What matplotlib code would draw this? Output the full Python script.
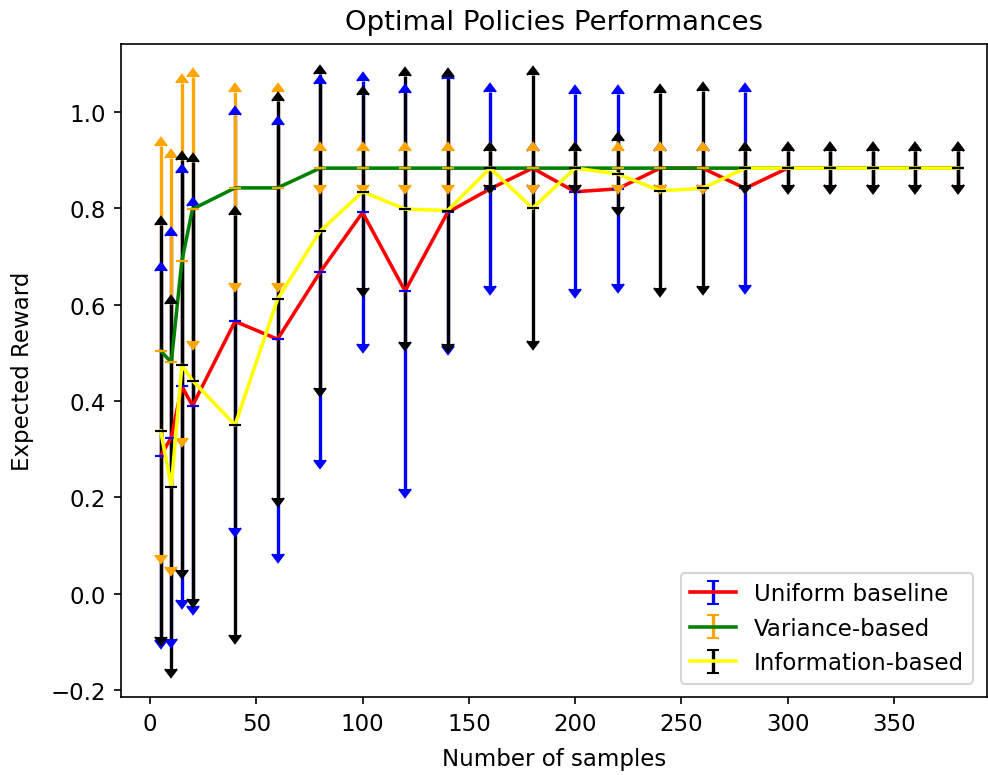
import matplotlib
matplotlib.use("Agg")
import matplotlib.pyplot as plt

# sample counts used for every policy
samples = [5, 10, 15, 20, 40, 60, 80, 100, 120, 140, 160, 180, 200,
           220, 240, 260, 280, 300, 320, 340, 360, 380]

# expected reward (mean) and spread for each policy
uniform_mean = [0.286, 0.324, 0.430, 0.390, 0.565, 0.528, 0.667, 0.791, 0.628,
                0.791, 0.840, 0.883, 0.834, 0.840, 0.883, 0.883, 0.841, 0.883,
                0.883, 0.883, 0.883, 0.883]
uniform_err = [0.383, 0.418, 0.443, 0.415, 0.428, 0.445, 0.390, 0.273, 0.410,
               0.277, 0.202, 0.036, 0.202, 0.197, 0.036, 0.036, 0.200, 0.036,
               0.036, 0.036, 0.036, 0.036]

variance_mean = [0.504, 0.480, 0.691, 0.798, 0.842, 0.842, 0.883, 0.883, 0.883,
                 0.883, 0.883, 0.883, 0.883, 0.883, 0.883, 0.883, 0.883, 0.883,
                 0.883, 0.883, 0.883, 0.883]
variance_err = [0.424, 0.424, 0.369, 0.274, 0.198, 0.198, 0.036, 0.036, 0.036,
                0.036, 0.036, 0.036, 0.036, 0.036, 0.036, 0.036, 0.036, 0.036,
                0.036, 0.036, 0.036, 0.036]

info_mean = [0.338, 0.222, 0.474, 0.442, 0.350, 0.611, 0.752, 0.834, 0.798,
             0.795, 0.883, 0.800, 0.883, 0.871, 0.836, 0.841, 0.883, 0.883,
             0.883, 0.883, 0.883, 0.883]
info_err = [0.428, 0.379, 0.425, 0.453, 0.436, 0.412, 0.326, 0.200, 0.276,
            0.277, 0.036, 0.276, 0.036, 0.068, 0.202, 0.202, 0.036, 0.036,
            0.036, 0.036, 0.036, 0.036]

series = [
    ("Uniform baseline", uniform_mean, uniform_err, "red", "blue"),
    ("Variance-based", variance_mean, variance_err, "green", "orange"),
    ("Information-based", info_mean, info_err, "yellow", "black"),
]

plt.rcParams["font.size"] = 11

fig = plt.figure(figsize=(988 / 150, 776 / 150), dpi=150)
ax = fig.add_axes([0.1222, 0.1001, 0.999 - 0.1222, 0.942 - 0.1001])

for label, mean, err, color, ecolor in series:
    # upper half of each bar ends in an up arrow, lower half in a down arrow
    up = ax.errorbar(samples, mean, yerr=err, fmt="-", color=color, ecolor=ecolor,
                     lw=1.7, elinewidth=1.6, capsize=2.7, lolims=True, label=label)
    down = ax.errorbar(samples, mean, yerr=err, fmt="none", ecolor=ecolor,
                       elinewidth=1.6, capsize=2.7, uplims=True)
    # arrow heads in the bar colour, bars kept underneath lines and heads
    up.lines[0].set_zorder(2.5)
    for cont in (up, down):
        for cap in cont.lines[1]:
            cap.set_markerfacecolor(ecolor)
            cap.set_markeredgecolor(ecolor)
            cap.set_zorder(2.5)

ax.set_xlim(-13.78, 393.8)
ax.set_ylim(-0.2152, 1.1406)
ax.set_xticks([0, 50, 100, 150, 200, 250, 300, 350])
ax.set_yticks([-0.2, 0.0, 0.2, 0.4, 0.6, 0.8, 1.0])

ax.set_title("Optimal Policies Performances", pad=7)
ax.set_xlabel("Number of samples", labelpad=6)
ax.set_ylabel("Expected Reward", labelpad=8)
ax.legend(loc="lower right", borderaxespad=0.6)

fig.savefig("out.png", dpi=150)
